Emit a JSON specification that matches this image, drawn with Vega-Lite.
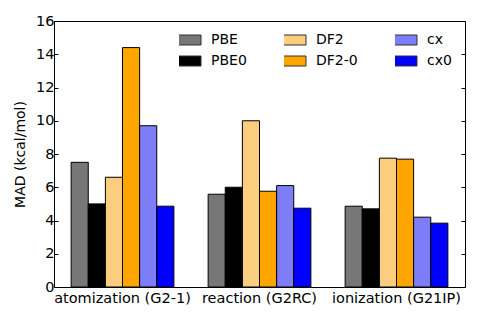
{
  "$schema": "https://vega.github.io/schema/vega-lite/v6.json",
  "width": 411,
  "height": 266,
  "autosize": {"type": "none"},
  "padding": {"left": 54, "top": 21, "right": 15, "bottom": 33},
  "background": "white",
  "config": {
    "view": {"stroke": "black", "strokeWidth": 1},
    "font": "DejaVu Sans"
  },
  "data": {
    "values": [
      {"cat": "atomization (G2-1)", "method": "PBE", "mad": 7.5},
      {"cat": "atomization (G2-1)", "method": "PBE0", "mad": 5.0},
      {"cat": "atomization (G2-1)", "method": "DF2", "mad": 6.6},
      {"cat": "atomization (G2-1)", "method": "DF2-0", "mad": 14.4},
      {"cat": "atomization (G2-1)", "method": "cx", "mad": 9.7},
      {"cat": "atomization (G2-1)", "method": "cx0", "mad": 4.86},
      {"cat": "reaction (G2RC)", "method": "PBE", "mad": 5.58},
      {"cat": "reaction (G2RC)", "method": "PBE0", "mad": 6.0},
      {"cat": "reaction (G2RC)", "method": "DF2", "mad": 10.0},
      {"cat": "reaction (G2RC)", "method": "DF2-0", "mad": 5.76},
      {"cat": "reaction (G2RC)", "method": "cx", "mad": 6.1},
      {"cat": "reaction (G2RC)", "method": "cx0", "mad": 4.74},
      {"cat": "ionization (G21IP)", "method": "PBE", "mad": 4.86},
      {"cat": "ionization (G21IP)", "method": "PBE0", "mad": 4.7},
      {"cat": "ionization (G21IP)", "method": "DF2", "mad": 7.75},
      {"cat": "ionization (G21IP)", "method": "DF2-0", "mad": 7.69},
      {"cat": "ionization (G21IP)", "method": "cx", "mad": 4.2},
      {"cat": "ionization (G21IP)", "method": "cx0", "mad": 3.84}
    ]
  },
  "layer": [
    {
      "mark": {"type": "bar", "stroke": "black", "strokeWidth": 1},
      "encoding": {
        "x": {
          "field": "cat", "type": "nominal", "sort": null,
          "scale": {"paddingInner": 0, "paddingOuter": 0},
          "axis": {"title": null, "labelAngle": 0, "labelFontSize": 14.5, "labelColor": "black", "ticks": false, "domain": false, "labelPadding": 4}
        },
        "xOffset": {
          "field": "method", "type": "nominal",
          "sort": ["PBE", "PBE0", "DF2", "DF2-0", "cx", "cx0"],
          "scale": {"paddingInner": 0, "paddingOuter": 1.03}
        },
        "y": {
          "field": "mad", "type": "quantitative",
          "scale": {"domain": [0, 16], "nice": false},
          "axis": {"title": "MAD (kcal/mol)", "titleFontSize": 14, "titleFontWeight": "normal", "titleColor": "black", "titlePadding": 8, "labelFontSize": 14.5, "labelColor": "black", "values": [0,2,4,6,8,10,12,14,16], "grid": false, "domain": false, "tickSize": -4, "tickColor": "black", "labelPadding": 4}
        },
        "color": {
          "field": "method", "type": "nominal",
          "scale": {
            "domain": ["PBE", "PBE0", "DF2", "DF2-0", "cx", "cx0"],
            "range": ["#777777", "#000000", "#fbcd7e", "#ffa500", "#7d7df8", "#0000ff"]
          },
          "legend": {
            "title": null, "orient": "none", "legendX": 125, "legendY": 12,
            "columns": 3, "columnPadding": 37, "rowPadding": 7,
            "symbolType": "M-3,-1h6v2h-6z", "symbolSize": 100,
            "symbolStrokeColor": "#333", "symbolStrokeWidth": 1,
            "labelFontSize": 14, "labelColor": "black", "labelOffset": 18,
            "clipHeight": 14
          }
        }
      }
    },
    {
      "mark": {"type": "rule", "opacity": 0},
      "encoding": {
        "y": {
          "datum": 0, "type": "quantitative",
          "axis": {"orient": "right", "title": null, "labels": false, "values": [0,2,4,6,8,10,12,14,16], "grid": false, "domain": false, "tickSize": -4, "tickColor": "black"}
        }
      }
    }
  ],
  "resolve": {"axis": {"y": "independent"}}
}
